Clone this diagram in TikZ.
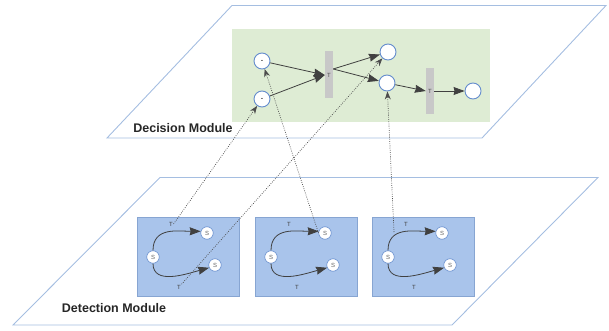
\documentclass[tikz,border=0pt]{standalone}
\usepackage{fontspec}
\setmainfont{Liberation Sans}
\usetikzlibrary{arrows.meta}
\definecolor{planeline}{RGB}{165,190,225}
\definecolor{decgreen}{RGB}{222,236,212}
\definecolor{detblue}{RGB}{169,196,235}
\definecolor{detedge}{RGB}{135,165,210}
\definecolor{placeedge}{RGB}{100,140,205}
\definecolor{transgray}{RGB}{200,200,200}
\tikzset{>={Stealth[length=11pt,width=8pt,inset=1pt]}}
\tikzset{
  plane/.style={draw=planeline, line width=0.9pt},
  dplace/.style={circle, draw=placeedge, fill=white, line width=0.9pt, minimum size=16pt, inner sep=0pt, font=\bfseries\fontsize{7}{7}\selectfont},
  dtrans/.style={rectangle, fill=transgray, minimum width=8pt, minimum height=47pt, inner sep=0pt, font=\fontsize{6}{6}\selectfont, text=black!70},
  splace/.style={circle, draw=placeedge, fill=white, line width=0.6pt, minimum size=12.5pt, inner sep=0pt, font=\fontsize{6}{6}\selectfont, text=black!60},
  tlabel/.style={inner sep=0.5pt, font=\fontsize{6}{6}\selectfont, text=black!75},
  detbox/.style={rectangle, draw=detedge, fill=detblue, line width=0.5pt, minimum width=102pt, minimum height=79pt, inner sep=0pt},
  netarrow/.style={->, draw=black!75, line width=0.8pt},
  dotlink/.style={-{Stealth[length=8pt,width=6pt]}, draw=black!70, line width=0.7pt, dash pattern=on 0.8pt off 1.4pt},
  modlabel/.style={font=\bfseries\fontsize{12.5}{14}\selectfont, text=black!85}
}

\begin{document}
\begin{tikzpicture}[x=1pt,y=-1pt]
    \useasboundingbox (0,0) rectangle (609,331);
    \draw[plane] (232,5.5) -- (606,5.5) -- (482,138) -- (107,138) -- cycle;
    \fill[decgreen] (232,29) rectangle (490,122);
    \node[modlabel] (declabel) at (183,128) {Decision Module};
    \draw[plane] (160,177.5) -- (598,177.5) -- (452,325) -- (13,325) -- cycle;
    \node[modlabel] (detlabel) at (114,308) {Detection Module};

    \node[dplace] (p1) at (262,61) {.};
    \node[dplace] (p2) at (262,99) {.};
    \node[dplace] (p3) at (388,52) {};
    \node[dplace] (p4) at (387,83) {};
    \node[dplace] (p5) at (473,91) {};
    \node[dtrans] (t1) at (329,75) {T};
    \node[dtrans, minimum height=46pt] (t2) at (430,91) {T};
    \draw[netarrow] (p1) -- (t1.west);
    \draw[netarrow] (p2) -- (t1.west);
    \draw[netarrow] ([yshift=6pt]t1.east) -- (p3);
    \draw[netarrow] ([yshift=6pt]t1.east) -- (p4);
    \draw[netarrow] (p4) -- (t2.west);
    \draw[netarrow] (t2) -- (p5);

    \foreach \i/\x in {1/137, 2/255, 3/372} {
        \node[detbox, anchor=north west] (box\i) at (\x,217) {};
        \node[splace] (sl\i) at (\x+16,257) {S};
        \node[splace] (st\i) at (\x+70,233) {S};
        \node[splace] (sb\i) at (\x+78,265) {S};
        \draw[netarrow] (sl\i.north) .. controls +(0,-24) and +(-22,0) .. (st\i.165);
        \draw[netarrow] (sl\i.south) .. controls +(0,22) and +(-22,6) .. (sb\i.205);
        \node[tlabel] (ta\i) at (\x+34,224) {T};
        \node[tlabel] (tb\i) at (\x+42,287) {T};
    }

    \coordinate (l4) at (394,232);
    \draw[dotlink] (ta1.east) -- (p2);
    \draw[dotlink] (tb1.north east) -- (p3);
    \draw[dotlink] (st2.west) -- (p1);
    \draw[dotlink] (l4) -- (p4);
\end{tikzpicture}
\end{document}
